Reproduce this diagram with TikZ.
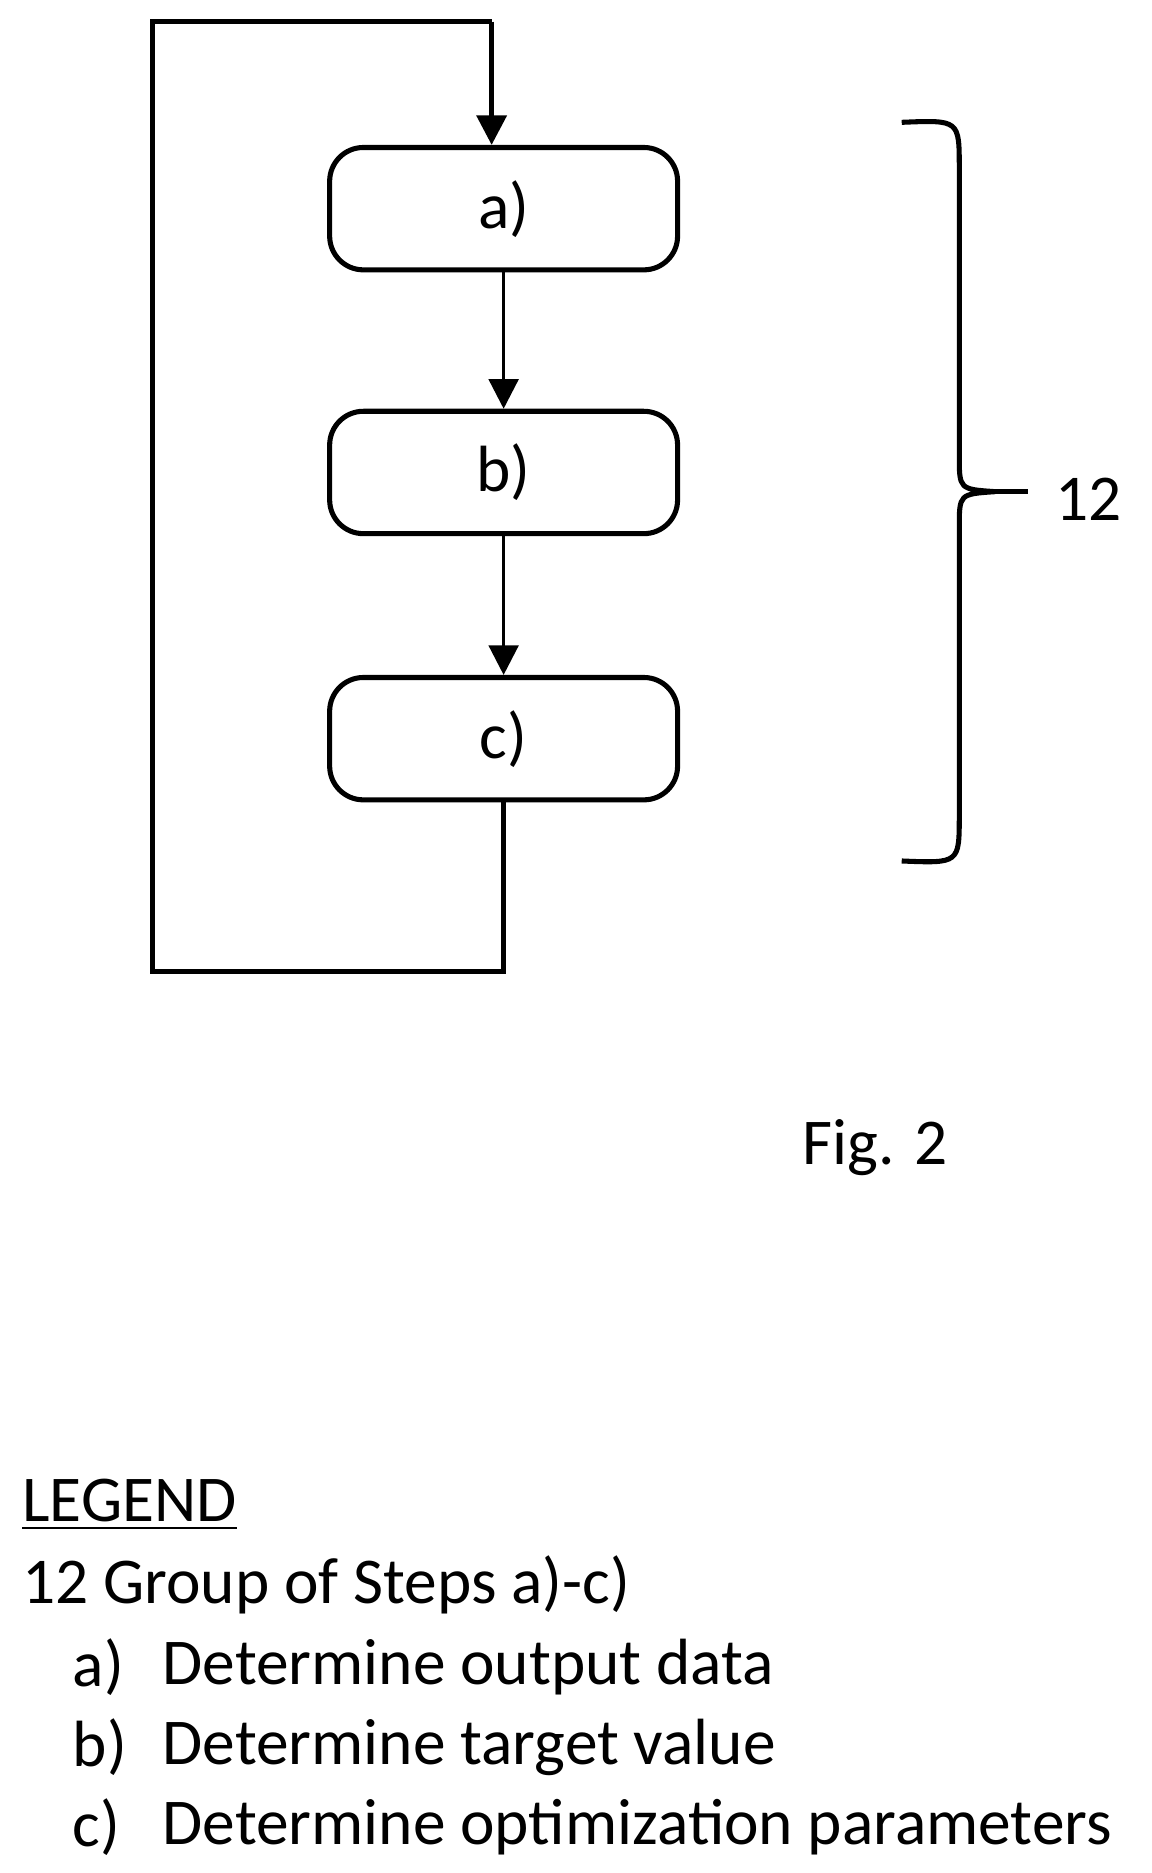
\documentclass[tikz,border=0pt]{standalone}
\usepackage{fontspec}
\setmainfont{Carlito}
\usetikzlibrary{positioning, arrows.meta}

\tikzset{
  stepbox/.style={draw, very thick, rounded corners=8pt, minimum width=2.9cm, minimum height=1.02cm, font=\fontsize{15.5}{18}\selectfont},
  flow/.style={thick, -{Triangle[length=7pt,width=7pt]}},
  legend/.style={anchor=west, inner sep=0pt, font=\fontsize{15.5}{18}\selectfont}
}

\begin{document}
\begin{tikzpicture}[x=0.01cm, y=-0.01cm]
\useasboundingbox (0,0) rectangle (960,1562);

% steps
\node[stepbox] (a) at (420,174) {a)};
\node[stepbox] (b) at (420,394) {b)};
\node[stepbox] (c) at (420,616) {c)};

%% arrows between steps
\draw[flow] (a) -- (b);
\draw[flow] (b) -- (c);

%% loop back
\coordinate (loopA) at (420,810);
\coordinate (loopB) at (127,810);
\coordinate (loopC) at (127,18);
\coordinate (loopD) at (410,18);
\draw[very thick] (c.south) -- (loopA) -- (loopB) -- (loopC) -- (loopD);
\draw[flow, very thick] (loopD) -- (a.north -| loopD);

% brace 12
\draw[very thick] (752,102) .. controls (800,100) .. (800,140) -- (800,380)
  .. controls (800,408) .. (830,410) .. controls (800,412) .. (800,440)
  -- (800,680) .. controls (800,720) .. (752,718);
\coordinate (tip) at (830,410);
\draw[very thick] (tip) -- (857,410);
\node[anchor=west, font=\fontsize{15.5}{18}\selectfont] (lbl) at (868,416) {12};

% figure label
\node[font=\fontsize{15.5}{18}\selectfont] (fig) at (730,957) {Fig. 2};

% legend
\node[legend] (leg) at (18,1255) {\underline{LEGEND}};
\node[legend] (leg0) at (18,1322) {12 Group of Steps a)-c)};
\node[legend] (la) at (60,1390) {a)};
\node[legend] (ta) at (135,1390) {Determine output data};
\node[legend] (lb) at (60,1457) {b)};
\node[legend] (tb) at (135,1457) {Determine target value};
\node[legend] (lc) at (60,1524) {c)};
\node[legend] (tc) at (135,1524) {Determine optimization parameters};

\end{tikzpicture}
\end{document}
